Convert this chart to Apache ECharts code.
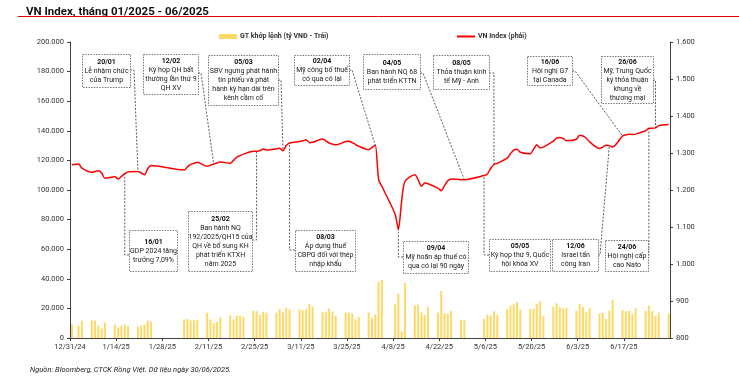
<!DOCTYPE html>
<html><head><meta charset="utf-8">
<script src="https://cdn.jsdelivr.net/npm/echarts@6/dist/echarts.min.js"></script>
<style>html,body{margin:0;padding:0;background:#fff}#c{width:739px;height:382px}</style>
</head><body><div id="c"></div>
<script>
// ---------- DATA ----------
const tradingDates = [
  '2024-12-31',
  '2025-01-02','2025-01-03',
  '2025-01-06','2025-01-07','2025-01-08','2025-01-09','2025-01-10',
  '2025-01-13','2025-01-14','2025-01-15','2025-01-16','2025-01-17',
  '2025-01-20','2025-01-21','2025-01-22','2025-01-23','2025-01-24',
  '2025-02-03','2025-02-04','2025-02-05','2025-02-06','2025-02-07',
  '2025-02-10','2025-02-11','2025-02-12','2025-02-13','2025-02-14',
  '2025-02-17','2025-02-18','2025-02-19','2025-02-20','2025-02-21',
  '2025-02-24','2025-02-25','2025-02-26','2025-02-27','2025-02-28',
  '2025-03-03','2025-03-04','2025-03-05','2025-03-06','2025-03-07',
  '2025-03-10','2025-03-11','2025-03-12','2025-03-13','2025-03-14',
  '2025-03-17','2025-03-18','2025-03-19','2025-03-20','2025-03-21',
  '2025-03-24','2025-03-25','2025-03-26','2025-03-27','2025-03-28',
  '2025-03-31','2025-04-01','2025-04-02','2025-04-03','2025-04-04',
  '2025-04-08','2025-04-09','2025-04-10','2025-04-11',
  '2025-04-14','2025-04-15','2025-04-16','2025-04-17','2025-04-18',
  '2025-04-21','2025-04-22','2025-04-23','2025-04-24','2025-04-25',
  '2025-04-28','2025-04-29',
  '2025-05-05','2025-05-06','2025-05-07','2025-05-08','2025-05-09',
  '2025-05-12','2025-05-13','2025-05-14','2025-05-15','2025-05-16',
  '2025-05-19','2025-05-20','2025-05-21','2025-05-22','2025-05-23',
  '2025-05-26','2025-05-27','2025-05-28','2025-05-29','2025-05-30',
  '2025-06-02','2025-06-03','2025-06-04','2025-06-05','2025-06-06',
  '2025-06-09','2025-06-10','2025-06-11','2025-06-12','2025-06-13',
  '2025-06-16','2025-06-17','2025-06-18','2025-06-19','2025-06-20',
  '2025-06-23','2025-06-24','2025-06-25','2025-06-26','2025-06-27',
  '2025-06-30'
];
const matchedValue = [ // GT khớp lệnh (tỷ VNĐ)
  9400,
  8500,11700,
  11900,11700,8300,6300,10300,
  9000,7000,8300,9200,8100,
  7600,8300,9200,11700,11000,
  12600,12800,11900,11900,12400,
  17100,12600,10100,10800,13700,
  15300,12600,15100,15100,14400,
  18400,18200,15500,17500,17100,
  17100,19500,17300,20400,19300,
  19500,18700,19300,22900,21100,
  17800,17300,20000,17800,15100,
  17100,17100,16400,12600,14200,
  17300,13500,15700,38000,39300,
  22700,29900,4500,37100,
  22000,22500,17500,15500,20700,
  17100,31700,16900,16200,18200,
  12100,11900,
  12800,16000,15100,18000,15700,
  19500,21800,22700,24300,19100,
  19500,19800,23100,24900,14800,
  21100,23400,20700,20000,20400,
  18400,22900,20900,17300,20200,
  16400,17100,12800,18400,25800,
  18900,18200,18400,16200,20000,
  18200,21800,18200,14800,17100,
  16400
];
const vnIndex = [
  1268,
  1270,1259,
  1248,1250,1252,1246,1232,
  1236,1230,1237,1244,1249,
  1250,1246,1241,1258,1266,
  1254,1262,1269,1272,1275,
  1264,1267,1270,1273,1276,
  1272,1280,1289,1293,1297,
  1305,1305,1306,1311,1308,
  1311,1313,1306,1320,1327,
  1331,1333,1336,1328,1329,
  1338,1333,1327,1324,1322,
  1331,1332,1328,1323,1318,
  1309,1315,1321,1229,1210,
  1135,1093,1170,1223,
  1241,1228,1210,1219,1217,
  1205,1198,1212,1225,1230,
  1228,1228,
  1239,1243,1258,1269,1272,
  1286,1298,1308,1310,1302,
  1298,1310,1322,1314,1316,
  1332,1340,1342,1339,1333,
  1337,1348,1346,1340,1330,
  1312,1316,1321,1320,1316,
  1346,1349,1351,1350,1351,
  1360,1367,1367,1368,1374,
  1377
];
const xTickLabels = ['12/31/24','1/14/25','1/28/25','2/11/25','2/25/25','3/11/25','3/25/25','4/8/25','4/22/25','5/6/25','5/20/25','6/3/25','6/17/25'];
const seriesNames = ['GT khớp lệnh (tỷ VNĐ - Trái)', 'VN Index (phải)'];
const titleText = 'VN Index, tháng 01/2025 - 06/2025';
const sourceText = 'Nguồn: Bloomberg, CTCK Rồng Việt. Dữ liệu ngày 30/06/2025.';

// annotation texts and the trading date each points to
const annotationTexts = [
  {date:'20/01', lines:['Lễ nhậm chức','của Trump'], at:'2025-01-20'},
  {date:'12/02', lines:['Kỳ họp QH bất','thường lần thứ 9','QH XV'], at:'2025-02-12'},
  {date:'05/03', lines:['SBV ngưng phát hành','tín phiếu và phát','hành kỳ hạn dài trên','kênh cầm cố'], at:'2025-03-05'},
  {date:'02/04', lines:['Mỹ công bố thuế','có qua có lại'], at:'2025-04-02'},
  {date:'04/05', lines:['Ban hành NQ 68','phát triển KTTN'], at:'2025-04-29'},
  {date:'08/05', lines:['Thỏa thuận kinh','tế Mỹ - Anh'], at:'2025-05-08'},
  {date:'16/06', lines:['Hội nghị G7','tại Canada'], at:'2025-06-16'},
  {date:'26/06', lines:['Mỹ, Trung Quốc','ký thỏa thuận','khung về','thương mại'], at:'2025-06-26'},
  {date:'16/01', lines:['GDP 2024 tăng','trưởng 7,09%'], at:'2025-01-16'},
  {date:'25/02', lines:['Ban hành NQ','192/2025/QH15 của','QH về bổ sung KH','phát triển KTXH','năm 2025'], at:'2025-02-25'},
  {date:'08/03', lines:['Áp dụng thuế','CBPG đối với thép','nhập khẩu'], at:'2025-03-07'},
  {date:'09/04', lines:['Mỹ hoãn áp thuế có','qua có lại 90 ngày'], at:'2025-04-09'},
  {date:'05/05', lines:['Kỳ họp thứ 9, Quốc','hội khóa XV'], at:'2025-05-05'},
  {date:'12/06', lines:['Israel tấn','công Iran'], at:'2025-06-12'},
  {date:'24/06', lines:['Hội nghị cấp','cao Nato'], at:'2025-06-24'}
];

// ---------- LAYOUT (pixel boxes for the callouts) ----------
// box [x,y,w,h], anchor on box edge, elbow: explicit point or 'v' (elbow at the data point's x)
const annotationLayout = [
  {box:[82,54,48,33],  anchor:[130,70],  elbow:[134,70]},
  {box:[143,54,55,40], anchor:[198,73],  elbow:[201,73]},
  {box:[208,55,70,50], anchor:[278,80],  elbow:[281,80]},
  {box:[294,55,55,30], anchor:[349,70],  elbow:[352,70]},
  {box:[363,54,57,35], anchor:[420,73],  elbow:[423,73]},
  {box:[433,55,56,34], anchor:[489,73],  elbow:'v'},
  {box:[527,56,45,29], anchor:[572,71],  elbow:[575,71]},
  {box:[601,56,52,47], anchor:[653,80],  elbow:'v'},
  {box:[129,230,48,41], anchor:[129,255], elbow:'v'},
  {box:[188,211,64,60], anchor:[252,240], elbow:'v'},
  {box:[295,230,60,41], anchor:[295,250], elbow:'v'},
  {box:[403,241,65,32], anchor:[403,257], elbow:'v'},
  {box:[489,239,61,32], anchor:[489,255], elbow:'v'},
  {box:[552,239,46,32], anchor:[598,255], elbow:[600,255]},
  {box:[605,240,43,31], anchor:[648,255], elbow:'v'}
];

const DAY = 86400000;
const origin = Date.UTC(2024, 11, 31);
const dayPos = d => { const [y,m,dd] = d.split('-').map(Number); return (Date.UTC(y, m-1, dd) - origin) / DAY + 0.6; };
const fmtThousands = v => String(v).replace(/\B(?=(\d{3})+(?!\d))/g, '.');

const barData = tradingDates.map((d, i) => [dayPos(d), matchedValue[i]]);
const lineData = tradingDates.map((d, i) => [dayPos(d), vnIndex[i]]);

const FONT = 'Roboto, "Noto Sans", sans-serif';
const axisColor = '#404040';
const labelStyle = {fontSize: 7.5, color: '#333', fontFamily: FONT};

const chart = echarts.init(document.getElementById('c'), null, {renderer: 'canvas', width: 739, height: 382});
chart.setOption({
  animation: false,
  backgroundColor: '#fff',
  title: {text: titleText, left: 21, top: 1, textStyle: {fontSize: 11.5, fontWeight: 'bold', color: '#111', fontFamily: FONT}},
  legend: [
    {data: [seriesNames[0]], left: 214, top: 28, itemWidth: 18, itemHeight: 5, icon: 'rect', itemGap: 4,
     textStyle: {fontSize: 7, fontWeight: 'bold', color: '#333', fontFamily: FONT, padding: [0,0,0,-2]}},
    {data: [seriesNames[1]], left: 452, top: 28, itemWidth: 18, itemHeight: 2, icon: 'rect',
     textStyle: {fontSize: 7, fontWeight: 'bold', color: '#333', fontFamily: FONT, padding: [0,0,0,-2]}}
  ],
  grid: {left: 70, right: 69, top: 42, bottom: 44, containLabel: false},
  xAxis: {
    type: 'value', min: 0, max: 182, interval: 14,
    axisLine: {show: true, lineStyle: {color: axisColor, width: 1}},
    axisTick: {show: true, length: 3, lineStyle: {color: axisColor}},
    splitLine: {show: false},
    axisLabel: Object.assign({margin: 5, showMaxLabel: false, formatter: v => xTickLabels[Math.round(v / 14)] || ''}, labelStyle)
  },
  yAxis: [
    {type: 'value', min: 0, max: 200000, interval: 20000, position: 'left',
     axisLine: {show: true, lineStyle: {color: axisColor, width: 1}},
     axisTick: {show: true, length: 3, lineStyle: {color: axisColor}},
     splitLine: {show: false},
     axisLabel: Object.assign({margin: 6, formatter: v => fmtThousands(v)}, labelStyle)},
    {type: 'value', min: 800, max: 1600, interval: 100, position: 'right',
     axisLine: {show: true, lineStyle: {color: axisColor, width: 1}},
     axisTick: {show: true, length: 3, lineStyle: {color: axisColor}},
     splitLine: {show: false},
     axisLabel: Object.assign({margin: 6, formatter: v => fmtThousands(v)}, labelStyle)}
  ],
  series: [
    {name: seriesNames[0], type: 'bar', xAxisIndex: 0, yAxisIndex: 0, data: barData, barWidth: 2,
     itemStyle: {color: '#FFD966'}, z: 1},
    {name: seriesNames[1], type: 'line', xAxisIndex: 0, yAxisIndex: 1, data: lineData, showSymbol: false,
     smooth: 0.25, lineStyle: {color: '#FF0000', width: 1.5}, itemStyle: {color: '#FF0000'}, z: 3}
  ]
});

// callouts, leaders, title rule, source
const graphics = [
  {type: 'line', shape: {x1: 18, y1: 16.5, x2: 739, y2: 16.5}, style: {stroke: '#E30000', lineWidth: 1}, z: 10},
  {type: 'text', left: 30, top: 366, style: {text: sourceText, fontSize: 7.5, fontStyle: 'italic', fill: '#222', fontFamily: FONT}, z: 10}
];
annotationTexts.forEach((a, i) => {
  const L = annotationLayout[i];
  const idx = tradingDates.indexOf(a.at);
  const p = chart.convertToPixel({seriesIndex: 1}, lineData[idx]);
  const elbow = L.elbow === 'v' ? [p[0], L.anchor[1]] : L.elbow;
  graphics.push({type: 'polyline', shape: {points: [L.anchor, elbow, p]},
    style: {stroke: '#333', lineWidth: 0.8, lineDash: [2, 1.5], fill: null}, z: 20});
  const [bx, by, bw, bh] = L.box;
  graphics.push({type: 'rect', shape: {x: bx + 0.5, y: by + 0.5, width: bw, height: bh},
    style: {fill: '#fff', stroke: '#555', lineWidth: 0.8, lineDash: [1.5, 1.2]}, z: 21});
  graphics.push({type: 'text', z: 22, style: {
    x: bx + bw / 2 + 0.5, y: by + bh / 2 + 0.5, align: 'center', verticalAlign: 'middle',
    text: '{b|' + a.date + '}\n' + a.lines.map(s => '{t|' + s + '}').join('\n'),
    rich: {
      b: {fontSize: 7, fontWeight: 'bold', fill: '#111', fontFamily: FONT, lineHeight: 9, align: 'center'},
      t: {fontSize: 7, fill: '#222', fontFamily: FONT, lineHeight: 9, align: 'center'}
    }
  }});
});
chart.setOption({graphic: graphics});
</script>
</body></html>
